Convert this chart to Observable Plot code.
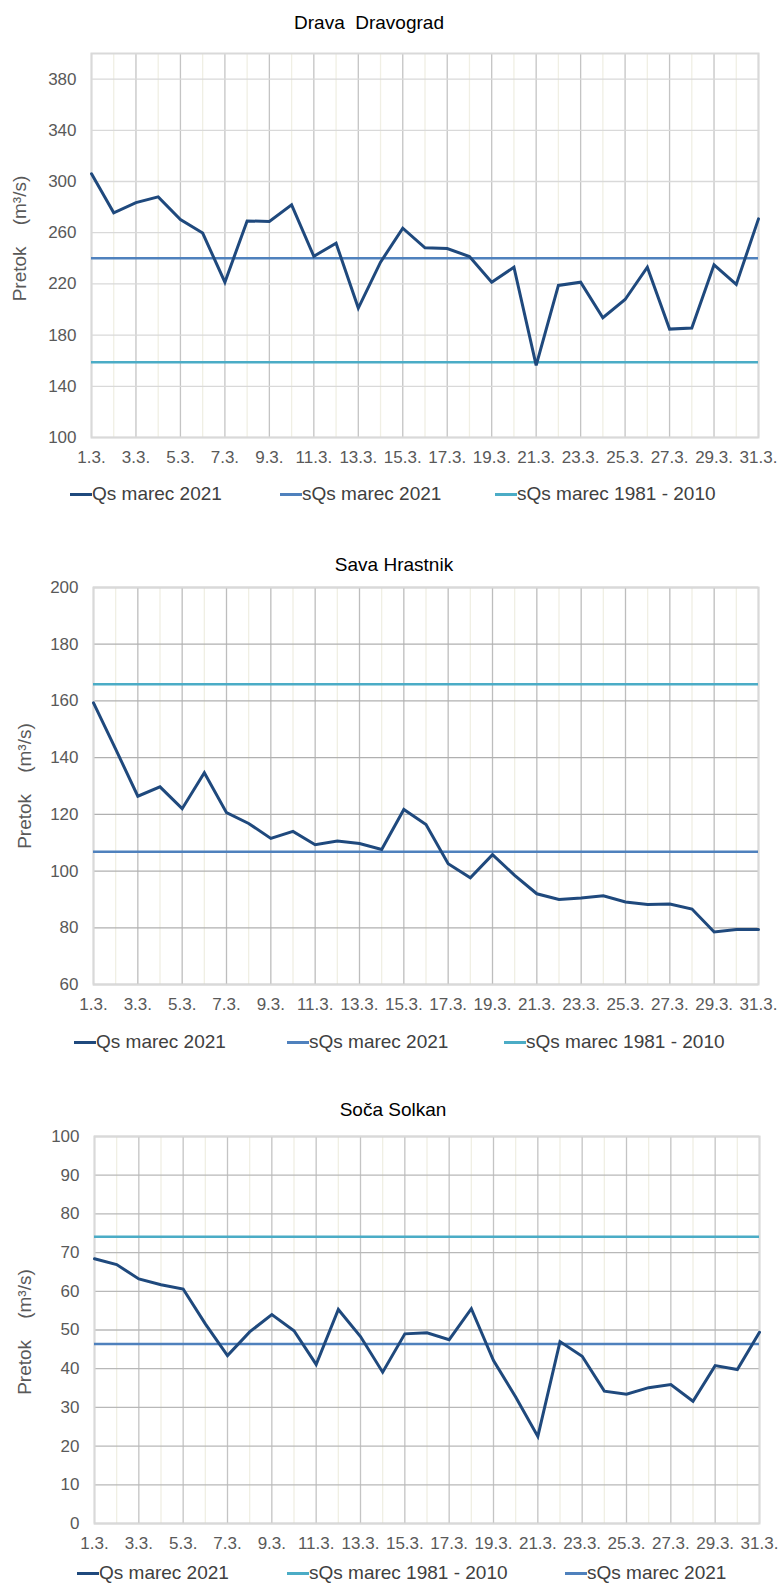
<!DOCTYPE html>
<html>
<head>
<meta charset="utf-8">
<script src="https://cdn.jsdelivr.net/npm/d3@7"></script>
<script src="https://cdn.jsdelivr.net/npm/@observablehq/plot@0.6"></script>
<style>
  html, body { margin: 0; padding: 0; background: #fff; }
  #page { position: relative; width: 780px; height: 1586px; overflow: hidden; font-family: "Liberation Sans", Arial, sans-serif; }
  .title { position: absolute; width: 400px; text-align: center; white-space: pre; font-size: 19px; line-height: 22px; color: #000; }
  .legtext { position: absolute; white-space: pre; font-size: 19px; line-height: 22px; color: #404040; }
  .legmark { position: absolute; width: 22px; height: 3px; }
</style>
</head>
<body>
<div id="page"></div>
<script>
// ---------- data ----------
const days = [1,2,3,4,5,6,7,8,9,10,11,12,13,14,15,16,17,18,19,20,21,22,23,24,25,26,27,28,29,30,31];
const oddDays = [1,3,5,7,9,11,13,15,17,19,21,23,25,27,29,31];
const evenDays = [2,4,6,8,10,12,14,16,18,20,22,24,26,28,30];
const xTickLabels = ["1.3.","3.3.","5.3.","7.3.","9.3.","11.3.","13.3.","15.3.","17.3.","19.3.","21.3.","23.3.","25.3.","27.3.","29.3.","31.3."];

const dravaTitle = "Drava  Dravograd";
const dravaQs = [306, 275.5, 283.5, 288, 270.3, 259.7, 221.3, 269.2, 268.7, 281.7, 241.6, 251.8, 201.1, 237, 263.5, 248.2, 247.6, 241.4, 221.3, 233, 156.4, 218.8, 221.3, 193.6, 207.8, 233, 184.7, 185.5, 234.9, 219.6, 270.8];
const dravaSQs2021 = 240;
const dravaSQs8110 = 158.7;
const dravaYTicks = [100, 140, 180, 220, 260, 300, 340, 380];
const dravaYDomain = [100, 400];

const savaTitle = "Sava Hrastnik";
const savaQs = [159.3, 143, 126.4, 129.7, 122, 134.7, 120.6, 116.8, 111.5, 114, 109.3, 110.6, 109.7, 107.6, 121.7, 116.4, 102.6, 97.6, 105.8, 98.5, 92, 90, 90.5, 91.3, 89.1, 88.2, 88.4, 86.6, 78.5, 79.4, 79.4];
const savaSQs2021 = 106.8;
const savaSQs8110 = 165.9;
const savaYTicks = [60, 80, 100, 120, 140, 160, 180, 200];
const savaYDomain = [60, 200];

const socaTitle = "Soča Solkan";
const socaQs = [68.4, 66.9, 63.2, 61.7, 60.6, 51.6, 43.4, 49.5, 54, 49.8, 41.1, 55.3, 48.3, 39.1, 49, 49.3, 47.5, 55.5, 42.1, 32.7, 22.5, 47, 43.2, 34.2, 33.4, 35.1, 35.9, 31.6, 40.8, 39.8, 49.4];
const socaSQs2021 = 46.4;
const socaSQs8110 = 74.1;
const socaYTicks = [0, 10, 20, 30, 40, 50, 60, 70, 80, 90, 100];
const socaYDomain = [0, 100];

const yLabel = "Pretok\u00a0\u00a0\u00a0\u00a0(m³/s)";
const seriesNames = ["Qs marec 2021", "sQs marec 2021", "sQs marec 1981 - 2010"];
const seriesNamesSoca = ["Qs marec 2021", "sQs marec 1981 - 2010", "sQs marec 2021"];
const COL_QS = "#1f497d", COL_S21 = "#4f81bd", COL_S81 = "#4bacc6";
const colorsStd = [COL_QS, COL_S21, COL_S81];
const colorsSoca = [COL_QS, COL_S81, COL_S21];

// ---------- layout helpers ----------
const page = document.getElementById("page");
const FONT = '"Liberation Sans", Arial, sans-serif';

function chart(cfg) {
  const p = Plot.plot({
    width: 780,
    height: cfg.height,
    marginLeft: cfg.left,
    marginRight: 780 - cfg.right,
    marginTop: cfg.mt,
    marginBottom: cfg.height - cfg.mt - cfg.inner,
    style: {fontFamily: FONT, fontSize: "17px", color: "#595959", background: "transparent", overflow: "visible"},
    x: {domain: [1, 31], ticks: oddDays, tickFormat: d => xTickLabels[oddDays.indexOf(d)], tickSize: 0, tickPadding: 13, label: null},
    y: {domain: cfg.domain, ticks: cfg.yTicks, tickSize: 0, tickPadding: 15, label: null},
    marks: [
      Plot.ruleX(evenDays, {x: d => d, stroke: "#f0efe4", strokeWidth: 1.3}),
      Plot.ruleX(oddDays, {x: d => d, stroke: cfg.vgrid, strokeWidth: 1.3}),
      Plot.ruleY(cfg.yTicks, {y: d => d, stroke: cfg.hgrid, strokeWidth: 1.3}),
      Plot.frame({stroke: "#d9d9d9", strokeWidth: 2}),
      Plot.ruleY([cfg.s81], {y: d => d, x1: 1, x2: 31, stroke: COL_S81, strokeWidth: 2.5}),
      Plot.ruleY([cfg.s21], {y: d => d, x1: 1, x2: 31, stroke: COL_S21, strokeWidth: 2.5}),
      Plot.line(days, {x: d => d, y: (d, i) => cfg.qs[i], stroke: COL_QS, strokeWidth: 3, strokeLinejoin: "miter", strokeMiterlimit: 3}),
      Plot.text([yLabel], {frameAnchor: "left", textAnchor: "middle", dx: cfg.ylx - cfg.left, dy: cfg.yldy, rotate: -90, fontSize: 19, fill: "#595959"})
    ]
  });
  p.style.position = "absolute";
  p.style.left = "0px";
  p.style.top = cfg.top + "px";
  page.appendChild(p);

  const t = document.createElement("div");
  t.className = "title";
  t.textContent = cfg.title;
  t.style.left = (cfg.titleX - 200) + "px";
  t.style.top = (cfg.titleY - 11) + "px";
  page.appendChild(t);

  cfg.legend.forEach((lx, i) => {
    const m = document.createElement("div");
    m.className = "legmark";
    m.style.left = lx + "px";
    m.style.top = (cfg.legY - 1) + "px";
    m.style.background = cfg.colors[i];
    page.appendChild(m);
    const s = document.createElement("div");
    s.className = "legtext";
    s.textContent = cfg.names[i];
    s.style.left = (lx + 22) + "px";
    s.style.top = (cfg.legY - 11) + "px";
    page.appendChild(s);
  });
}

chart({top: 40, height: 437, mt: 13, inner: 384, left: 91, right: 758,
  domain: dravaYDomain, yTicks: dravaYTicks, qs: dravaQs, s21: dravaSQs2021, s81: dravaSQs8110,
  vgrid: "#c4c4c4", hgrid: "#d9d9d9", ylx: 19, yldy: -7,
  title: dravaTitle, titleX: 369, titleY: 23,
  legY: 494, legend: [70, 280, 495], names: seriesNames, colors: colorsStd});

chart({top: 575, height: 449, mt: 12, inner: 397, left: 93, right: 758,
  domain: savaYDomain, yTicks: savaYTicks, qs: savaQs, s21: savaSQs2021, s81: savaSQs8110,
  vgrid: "#bdbdbd", hgrid: "#b0b0b0", ylx: 24, yldy: 0,
  title: savaTitle, titleX: 394, titleY: 565,
  legY: 1042, legend: [74, 287, 504], names: seriesNames, colors: colorsStd});

chart({top: 1125, height: 438, mt: 11, inner: 387, left: 94, right: 759,
  domain: socaYDomain, yTicks: socaYTicks, qs: socaQs, s21: socaSQs2021, s81: socaSQs8110,
  vgrid: "#c4c4c4", hgrid: "#b8b8b8", ylx: 24, yldy: 2,
  title: socaTitle, titleX: 393, titleY: 1110,
  legY: 1573, legend: [77, 287, 565], names: seriesNamesSoca, colors: colorsSoca});
</script>
</body>
</html>
